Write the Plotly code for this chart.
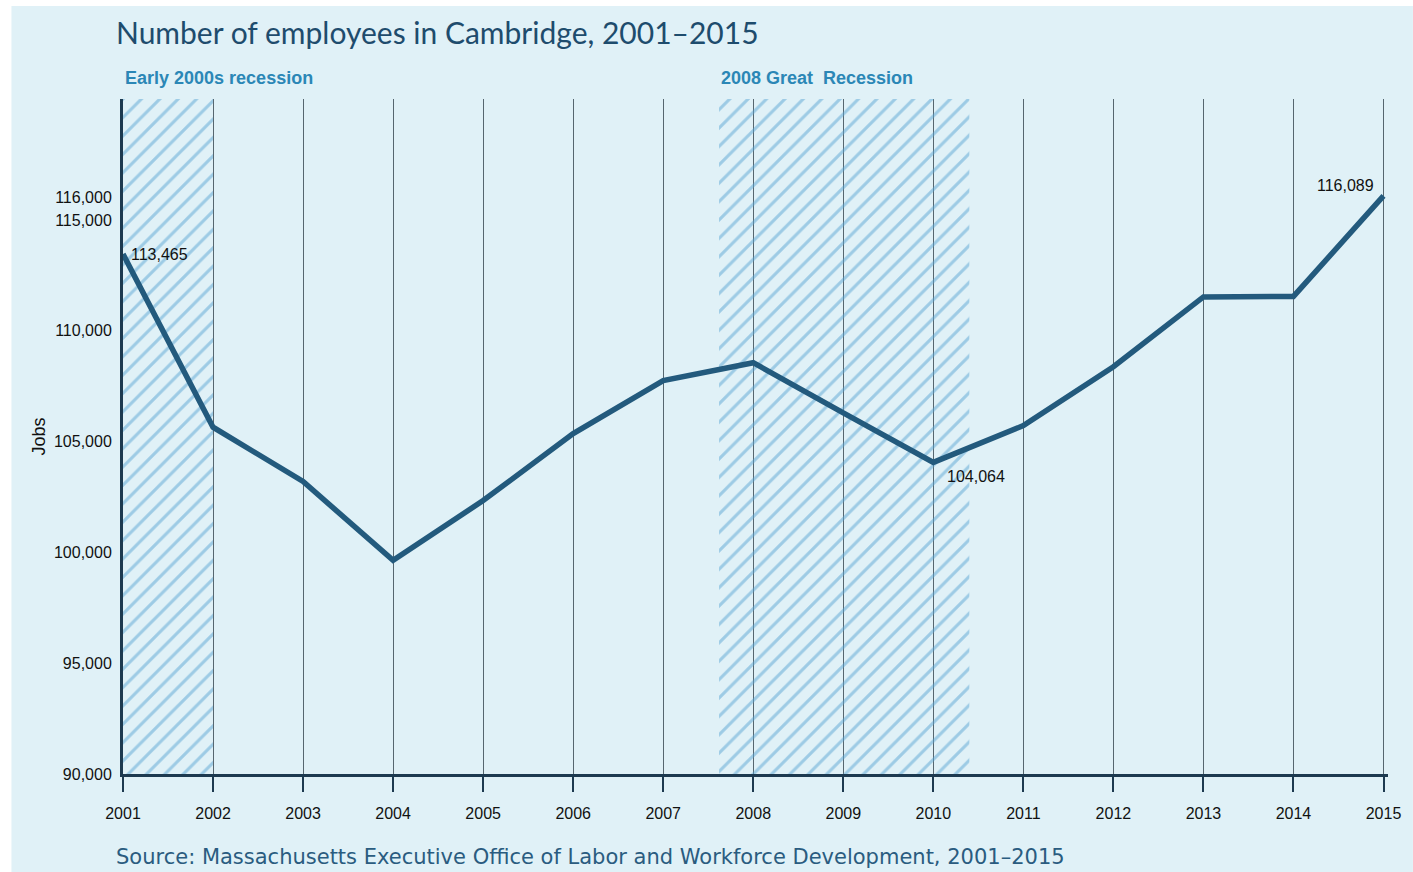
import plotly.graph_objects as go

# ---- data ----
years = [2001, 2002, 2003, 2004, 2005, 2006, 2007, 2008, 2009, 2010, 2011, 2012, 2013, 2014, 2015]
jobs = [113465, 105650, 103200, 99640, 102340, 105360, 107750, 108560, 106300, 104064,
        105720, 108380, 111530, 111550, 116089]

labelled_years = [2001, 2010, 2015]
labelled_text = ["113,465", "104,064", "116,089"]

rec_names = ["Early 2000s recession", "2008 Great  Recession"]
rec_start = [2001.0, 2007.62]
rec_end = [2002.0, 2010.4]

y_ticks = [90000, 95000, 100000, 105000, 110000, 115000, 116000]
y_ticklabels = ["90,000", "95,000", "100,000", "105,000", "110,000", "115,000", "116,000"]
x_ticks = years

title = "Number of employees in Cambridge, 2001\u20132015"
source = "Source: Massachusetts Executive Office of Labor and Workforce Development, 2001\u20132015"

# ---- layout geometry ----
W, H = 1413, 872
ML, MR, MT, MB = 123, 20, 99, 98
PW, PH = W - ML - MR, H - MT - MB
Y_MIN, Y_MAX = 90000, 120460
X_MIN, X_MAX = 2001, 2015.05

def px_x(px):
    return (px - ML) / PW

def px_y(py):
    return (H - MB - py) / PH

BG = "#e0f1f7"
LINE = "#235a7d"
AXIS = "#1d3a50"
HATCH = "#5aa5d3"
SANS = "Liberation Sans, Arial, sans-serif"

fig = go.Figure()

# recession shading (hatched bars)
fig.add_trace(go.Bar(
    x=[(s + e) / 2 for s, e in zip(rec_start, rec_end)],
    width=[e - s for s, e in zip(rec_start, rec_end)],
    y=[Y_MAX - Y_MIN for _ in rec_start],
    base=Y_MIN,
    marker=dict(
        color="rgba(0,0,0,0)",
        line=dict(width=0),
        pattern=dict(shape="/", fgcolor=HATCH, bgcolor="rgba(0,0,0,0)",
                     size=13, solidity=0.24, fillmode="overlay"),
    ),
    hoverinfo="skip",
    showlegend=False,
))

# employment line
fig.add_trace(go.Scatter(
    x=years, y=jobs, mode="lines",
    line=dict(color=LINE, width=5.5),
    showlegend=False,
    hovertemplate="%{x}: %{y:,}<extra></extra>",
))

annotations = []
label_pos = {
    2001: dict(xanchor="left", yanchor="middle", xshift=6, yshift=0),
    2010: dict(xanchor="left", yanchor="top", xshift=12, yshift=-4),
    2015: dict(xanchor="right", yanchor="bottom", xshift=-8, yshift=0),
}
for yr, txt in zip(labelled_years, labelled_text):
    v = jobs[years.index(yr)]
    annotations.append(dict(
        x=yr, y=v, xref="x", yref="y", text=txt, showarrow=False,
        font=dict(family=SANS, size=16, color="#111111"),
        **label_pos[yr],
    ))

for name, s in zip(rec_names, rec_start):
    annotations.append(dict(
        x=s, y=1, xref="x", yref="paper", text="<b>" + name + "</b>",
        showarrow=False, xanchor="left", yanchor="middle", yshift=21,
        font=dict(family=SANS, size=18, color="#2b87b6"),
    ))

annotations.append(dict(
    x=px_x(114), y=px_y(32), xref="paper", yref="paper", text=title,
    showarrow=False, xanchor="left", yanchor="middle",
    font=dict(family="Lato, sans-serif", size=30, color="#1e4c6d"),
))
annotations.append(dict(
    x=px_x(114), y=px_y(857), xref="paper", yref="paper", text=source,
    showarrow=False, xanchor="left", yanchor="middle",
    font=dict(family="DejaVu Sans, sans-serif", size=21, color="#2a5c80"),
))

fig.update_layout(
    width=W, height=H,
    margin=dict(l=ML, r=MR, t=MT, b=MB, pad=0),
    paper_bgcolor="white",
    plot_bgcolor="rgba(0,0,0,0)",
    barmode="overlay",
    annotations=annotations,
    shapes=[dict(
        type="rect", xref="paper", yref="paper",
        x0=px_x(11), x1=px_x(W + 5), y0=px_y(H + 5), y1=px_y(6),
        fillcolor=BG, line=dict(width=0), layer="below",
    )],
    xaxis=dict(
        range=[X_MIN, X_MAX], tickvals=x_ticks, ticktext=[str(y) for y in x_ticks],
        showgrid=True, gridcolor="#56666f", gridwidth=1,
        showline=True, linecolor=AXIS, linewidth=3,
        ticks="outside", ticklen=15, tickwidth=2, tickcolor=AXIS,
        tickfont=dict(family=SANS, size=16, color="#111111"),
        ticklabelstandoff=8,
        zeroline=False, fixedrange=True,
    ),
    yaxis=dict(
        range=[Y_MIN, Y_MAX], tickvals=y_ticks, ticktext=y_ticklabels,
        showgrid=False, zeroline=False,
        showline=True, linecolor=AXIS, linewidth=3,
        ticks="", ticklabelstandoff=5,
        tickfont=dict(family=SANS, size=16, color="#111111"),
        title=dict(text="Jobs", standoff=4,
                   font=dict(family=SANS, size=18, color="#111111")),
        fixedrange=True,
    ),
)

fig.write_html("out.html", config={"displayModeBar": False},
               post_script="document.body.style.margin='0';")
